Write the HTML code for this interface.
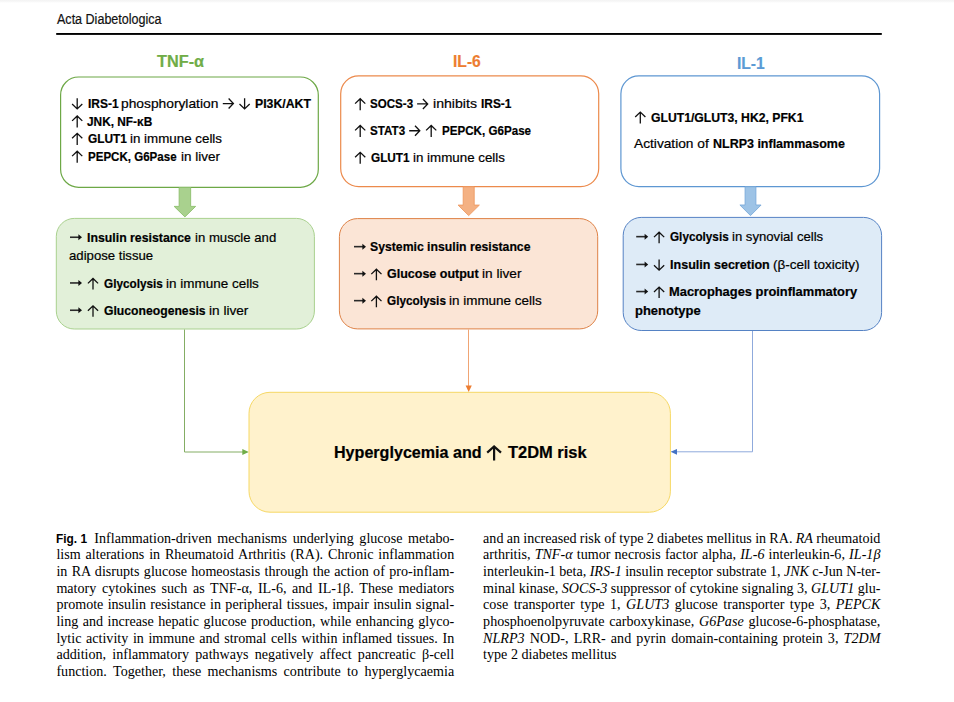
<!DOCTYPE html>
<html><head><meta charset="utf-8"><title>Fig. 1</title>
<style>
html,body{margin:0;padding:0;background:#fff;}
body{width:954px;height:702px;position:relative;overflow:hidden;font-family:"Liberation Sans",sans-serif;}
.topfade{position:absolute;left:0;top:0;width:954px;height:3px;background:linear-gradient(#f3f3f3,#f6f6f6 40%,#fff);}
.t{position:absolute;white-space:nowrap;transform-origin:0 0;line-height:1;-webkit-text-stroke:0.2px currentColor;}
.t b{font-weight:bold;}
.cap{position:absolute;white-space:nowrap;font-family:"Liberation Serif",serif;font-size:14.1px;line-height:16.66px;color:#000;transform-origin:0 0;}
.fig{font-family:"Liberation Sans",sans-serif;font-weight:bold;font-size:13.2px;}
</style></head><body>
<div class="topfade"></div>
<svg width="954" height="702" viewBox="0 0 954 702" style="position:absolute;left:0;top:0"><rect x="60.6" y="77.0" width="257.70" height="110.30" rx="18" ry="18" fill="#fff" stroke="#6DA846" stroke-width="1.2"/><rect x="340.7" y="75.8" width="258.00" height="110.80" rx="18" ry="18" fill="#fff" stroke="#EC8A4C" stroke-width="1.2"/><rect x="620.9" y="75.8" width="258.70" height="110.80" rx="18" ry="18" fill="#fff" stroke="#5E97D2" stroke-width="1.2"/><path d="M179.15,187.5 L190.65,187.5 L190.65,206.4 L195.65,206.4 L184.90,216.9 L174.15,206.4 L179.15,206.4 Z" fill="#A9D18E" stroke="#8CBF6C" stroke-width="0.9" stroke-linejoin="miter"/><path d="M463.20,186.8 L474.20,186.8 L474.20,205.1 L479.35,205.1 L468.70,215.6 L458.05,205.1 L463.20,205.1 Z" fill="#F4B183" stroke="#EE9A62" stroke-width="0.9" stroke-linejoin="miter"/><path d="M745.10,186.8 L755.90,186.8 L755.90,205.0 L761.10,205.0 L750.50,215.6 L739.90,205.0 L745.10,205.0 Z" fill="#9DC3E6" stroke="#7BAADA" stroke-width="0.9" stroke-linejoin="miter"/><rect x="56.3" y="218.4" width="258.10" height="110.60" rx="18" ry="18" fill="#E2F0D9" stroke="#A9D18E" stroke-width="1.0"/><rect x="339.4" y="218.6" width="258.30" height="110.30" rx="18" ry="18" fill="#FBE5D6" stroke="#DE8247" stroke-width="1.0"/><rect x="623.2" y="217.4" width="258.40" height="113.10" rx="18" ry="18" fill="#DEEBF7" stroke="#5582C4" stroke-width="1.0"/><path d="M184.5,329.5 L184.5,452.0 L243,452.0" fill="none" stroke="#84AD64" stroke-width="1"/><path d="M242.3,449.1 L248.8,452.0 L242.3,454.9 Z" fill="#70AD47"/><path d="M468.5,329.5 L468.5,386" fill="none" stroke="#EE9B64" stroke-width="0.9"/><path d="M465.6,385.6 L471.8,385.6 L468.7,392.0 Z" fill="#ED7D31"/><path d="M752.5,331 L752.5,451.8 L676,451.8" fill="none" stroke="#8FAADC" stroke-width="1"/><path d="M677.0,448.9 L670.6,451.8 L677.0,454.7 Z" fill="#4472C4"/><rect x="249.0" y="392.3" width="421.40" height="119.90" rx="21" ry="21" fill="#FFF2CC" stroke="#F6D865" stroke-width="1.0"/><path d="M77.2,98.2 L77.2,108.70 M72.10,104.00 L77.2,108.90 L82.30,104.00" fill="none" stroke="#111" stroke-width="1.3" stroke-linecap="butt" stroke-linejoin="miter"/><path d="M222.8,103.55 L233.20,103.55 M228.60,98.55 L233.40,103.55 L228.60,108.55" fill="none" stroke="#111" stroke-width="1.3" stroke-linecap="butt" stroke-linejoin="miter"/><path d="M244.6,98.2 L244.6,108.70 M239.50,104.00 L244.6,108.90 L249.70,104.00" fill="none" stroke="#111" stroke-width="1.3" stroke-linecap="butt" stroke-linejoin="miter"/><path d="M77.2,127.5 L77.2,116.2 M72.10,120.90 L77.2,116.00 L82.30,120.90" fill="none" stroke="#111" stroke-width="1.3" stroke-linecap="butt" stroke-linejoin="miter"/><path d="M77.2,144.9 L77.2,133.6 M72.10,138.30 L77.2,133.40 L82.30,138.30" fill="none" stroke="#111" stroke-width="1.3" stroke-linecap="butt" stroke-linejoin="miter"/><path d="M77.2,162.70000000000002 L77.2,151.4 M72.10,156.10 L77.2,151.20 L82.30,156.10" fill="none" stroke="#111" stroke-width="1.3" stroke-linecap="butt" stroke-linejoin="miter"/><path d="M360.2,110.2 L360.2,98.9 M355.10,103.60 L360.2,98.70 L365.30,103.60" fill="none" stroke="#111" stroke-width="1.3" stroke-linecap="butt" stroke-linejoin="miter"/><path d="M417.1,103.95 L427.50,103.95 M422.90,98.95 L427.70,103.95 L422.90,108.95" fill="none" stroke="#111" stroke-width="1.3" stroke-linecap="butt" stroke-linejoin="miter"/><path d="M360.2,137.0 L360.2,125.69999999999999 M355.10,130.40 L360.2,125.50 L365.30,130.40" fill="none" stroke="#111" stroke-width="1.3" stroke-linecap="butt" stroke-linejoin="miter"/><path d="M409.2,130.75 L419.60,130.75 M415.00,125.75 L419.80,130.75 L415.00,135.75" fill="none" stroke="#111" stroke-width="1.3" stroke-linecap="butt" stroke-linejoin="miter"/><path d="M431.2,137.0 L431.2,125.69999999999999 M426.10,130.40 L431.2,125.50 L436.30,130.40" fill="none" stroke="#111" stroke-width="1.3" stroke-linecap="butt" stroke-linejoin="miter"/><path d="M360.2,163.8 L360.2,152.5 M355.10,157.20 L360.2,152.30 L365.30,157.20" fill="none" stroke="#111" stroke-width="1.3" stroke-linecap="butt" stroke-linejoin="miter"/><path d="M640.3,123.6 L640.3,112.3 M635.20,117.00 L640.3,112.10 L645.40,117.00" fill="none" stroke="#111" stroke-width="1.3" stroke-linecap="butt" stroke-linejoin="miter"/><path d="M70.0,237.25 L79.20,237.25" stroke="#2a2a2a" stroke-width="1.6" fill="none"/><path d="M78.40,234.25 L82.00,237.25 L78.40,240.25 Z" fill="#111"/><path d="M70.0,282.95 L79.20,282.95" stroke="#2a2a2a" stroke-width="1.6" fill="none"/><path d="M78.40,279.95 L82.00,282.95 L78.40,285.95 Z" fill="#111"/><path d="M93.0,289.5 L93.0,278.7 M87.90,283.40 L93.0,278.50 L98.10,283.40" fill="none" stroke="#111" stroke-width="1.3" stroke-linecap="butt" stroke-linejoin="miter"/><path d="M70.0,310.25 L79.20,310.25" stroke="#2a2a2a" stroke-width="1.6" fill="none"/><path d="M78.40,307.25 L82.00,310.25 L78.40,313.25 Z" fill="#111"/><path d="M93.0,316.8 L93.0,306.0 M87.90,310.70 L93.0,305.80 L98.10,310.70" fill="none" stroke="#111" stroke-width="1.3" stroke-linecap="butt" stroke-linejoin="miter"/><path d="M354.0,246.65 L363.20,246.65" stroke="#2a2a2a" stroke-width="1.6" fill="none"/><path d="M362.40,243.65 L366.00,246.65 L362.40,249.65 Z" fill="#111"/><path d="M354.0,273.65 L363.20,273.65" stroke="#2a2a2a" stroke-width="1.6" fill="none"/><path d="M362.40,270.65 L366.00,273.65 L362.40,276.65 Z" fill="#111"/><path d="M376.4,280.2 L376.4,269.4 M371.30,274.10 L376.4,269.20 L381.50,274.10" fill="none" stroke="#111" stroke-width="1.3" stroke-linecap="butt" stroke-linejoin="miter"/><path d="M354.0,300.65 L363.20,300.65" stroke="#2a2a2a" stroke-width="1.6" fill="none"/><path d="M362.40,297.65 L366.00,300.65 L362.40,303.65 Z" fill="#111"/><path d="M376.4,307.2 L376.4,296.4 M371.30,301.10 L376.4,296.20 L381.50,301.10" fill="none" stroke="#111" stroke-width="1.3" stroke-linecap="butt" stroke-linejoin="miter"/><path d="M636.2,236.65 L645.40,236.65" stroke="#2a2a2a" stroke-width="1.6" fill="none"/><path d="M644.60,233.65 L648.20,236.65 L644.60,239.65 Z" fill="#111"/><path d="M659.1,243.20000000000002 L659.1,232.4 M654.00,237.10 L659.1,232.20 L664.20,237.10" fill="none" stroke="#111" stroke-width="1.3" stroke-linecap="butt" stroke-linejoin="miter"/><path d="M636.2,264.45 L645.40,264.45" stroke="#2a2a2a" stroke-width="1.6" fill="none"/><path d="M644.60,261.45 L648.20,264.45 L644.60,267.45 Z" fill="#111"/><path d="M659.1,259.4 L659.1,269.90 M654.00,265.20 L659.1,270.10 L664.20,265.20" fill="none" stroke="#111" stroke-width="1.3" stroke-linecap="butt" stroke-linejoin="miter"/><path d="M636.2,291.55 L645.40,291.55" stroke="#2a2a2a" stroke-width="1.6" fill="none"/><path d="M644.60,288.55 L648.20,291.55 L644.60,294.55 Z" fill="#111"/><path d="M659.1,298.1 L659.1,287.3 M654.00,292.00 L659.1,287.10 L664.20,292.00" fill="none" stroke="#111" stroke-width="1.3" stroke-linecap="butt" stroke-linejoin="miter"/><path d="M494.1,460.4 L494.1,446.5 M487.20000000000005,452.6 L494.1,446.4 L501.0,452.6" fill="none" stroke="#111" stroke-width="2.2" stroke-linecap="butt" stroke-linejoin="miter"/><rect x="56.2" y="33" width="825.6" height="1.9" fill="#000"/></svg><div class="t" id="t0" style="left:56.83px;top:11.91px;font-size:14.0px;font-family:'Liberation Sans', sans-serif;color:#111;transform:scaleX(0.8955)">Acta Diabetologica</div>
<div class="t" id="t1" style="left:156.75px;top:52.61px;font-size:17.2px;font-family:'Liberation Sans', sans-serif;color:#70AD47;transform:scaleX(0.9473)"><b>TNF-α</b></div>
<div class="t" id="t2" style="left:452.71px;top:52.71px;font-size:17.2px;font-family:'Liberation Sans', sans-serif;color:#ED7D31;transform:scaleX(0.9103)"><b>IL-6</b></div>
<div class="t" id="t3" style="left:736.62px;top:54.90px;font-size:17.2px;font-family:'Liberation Sans', sans-serif;color:#5B9BD5;transform:scaleX(0.9081)"><b>IL-1</b></div>
<div class="t" id="t4" style="left:87.98px;top:98.01px;font-size:12.8px;font-family:'Liberation Sans', sans-serif;color:#000;transform:scaleX(0.9355)"><b>IRS-1</b></div>
<div class="t" id="t5" style="left:121.41px;top:98.01px;font-size:12.8px;font-family:'Liberation Sans', sans-serif;color:#000;transform:scaleX(1.0770)">phosphorylation</div>
<div class="t" id="t6" style="left:255.09px;top:98.01px;font-size:12.8px;font-family:'Liberation Sans', sans-serif;color:#000;transform:scaleX(0.9589)"><b>PI3K/AKT</b></div>
<div class="t" id="t7" style="left:87.47px;top:115.71px;font-size:12.8px;font-family:'Liberation Sans', sans-serif;color:#000;transform:scaleX(0.9262)"><b>JNK, NF-κB</b></div>
<div class="t" id="t8" style="left:87.91px;top:133.11px;font-size:12.8px;font-family:'Liberation Sans', sans-serif;color:#000;transform:scaleX(0.9294)"><b>GLUT1</b></div>
<div class="t" id="t9" style="left:129.72px;top:133.11px;font-size:12.8px;font-family:'Liberation Sans', sans-serif;color:#000;transform:scaleX(1.0434)">in immune cells</div>
<div class="t" id="t10" style="left:88.48px;top:150.91px;font-size:12.8px;font-family:'Liberation Sans', sans-serif;color:#000;transform:scaleX(0.9021)"><b>PEPCK, G6Pase</b></div>
<div class="t" id="t11" style="left:180.60px;top:150.90px;font-size:12.8px;font-family:'Liberation Sans', sans-serif;color:#000;transform:scaleX(1.0511)">in liver</div>
<div class="t" id="t12" style="left:370.44px;top:98.41px;font-size:12.8px;font-family:'Liberation Sans', sans-serif;color:#000;transform:scaleX(0.9038)"><b>SOCS-3</b></div>
<div class="t" id="t13" style="left:433.11px;top:98.40px;font-size:12.8px;font-family:'Liberation Sans', sans-serif;color:#000;transform:scaleX(1.1037)">inhibits</div>
<div class="t" id="t14" style="left:480.77px;top:98.41px;font-size:12.8px;font-family:'Liberation Sans', sans-serif;color:#000;transform:scaleX(0.9284)"><b>IRS-1</b></div>
<div class="t" id="t15" style="left:370.03px;top:125.21px;font-size:12.8px;font-family:'Liberation Sans', sans-serif;color:#000;transform:scaleX(0.9086)"><b>STAT3</b></div>
<div class="t" id="t16" style="left:442.07px;top:125.21px;font-size:12.8px;font-family:'Liberation Sans', sans-serif;color:#000;transform:scaleX(0.9075)"><b>PEPCK, G6Pase</b></div>
<div class="t" id="t17" style="left:370.95px;top:152.01px;font-size:12.8px;font-family:'Liberation Sans', sans-serif;color:#000;transform:scaleX(0.9207)"><b>GLUT1</b></div>
<div class="t" id="t18" style="left:412.82px;top:152.01px;font-size:12.8px;font-family:'Liberation Sans', sans-serif;color:#000;transform:scaleX(1.0427)">in immune cells</div>
<div class="t" id="t19" style="left:651.15px;top:111.81px;font-size:12.8px;font-family:'Liberation Sans', sans-serif;color:#000;transform:scaleX(0.9527)"><b>GLUT1/GLUT3, HK2, PFK1</b></div>
<div class="t" id="t20" style="left:634.46px;top:138.41px;font-size:12.8px;font-family:'Liberation Sans', sans-serif;color:#000;transform:scaleX(1.0724)">Activation of</div>
<div class="t" id="t21" style="left:713.24px;top:138.41px;font-size:12.8px;font-family:'Liberation Sans', sans-serif;color:#000;transform:scaleX(0.9756)"><b>NLRP3 inflammasome</b></div>
<div class="t" id="t22" style="left:86.74px;top:232.01px;font-size:12.8px;font-family:'Liberation Sans', sans-serif;color:#000;transform:scaleX(0.9615)"><b>Insulin resistance</b></div>
<div class="t" id="t23" style="left:194.70px;top:232.01px;font-size:12.8px;font-family:'Liberation Sans', sans-serif;color:#000;transform:scaleX(1.0288)">in muscle and</div>
<div class="t" id="t24" style="left:68.92px;top:250.31px;font-size:12.8px;font-family:'Liberation Sans', sans-serif;color:#000;transform:scaleX(1.0287)">adipose tissue</div>
<div class="t" id="t25" style="left:103.64px;top:277.71px;font-size:12.8px;font-family:'Liberation Sans', sans-serif;color:#000;transform:scaleX(0.9191)"><b>Glycolysis</b></div>
<div class="t" id="t26" style="left:165.82px;top:277.71px;font-size:12.8px;font-family:'Liberation Sans', sans-serif;color:#000;transform:scaleX(1.0530)">in immune cells</div>
<div class="t" id="t27" style="left:103.78px;top:305.01px;font-size:12.8px;font-family:'Liberation Sans', sans-serif;color:#000;transform:scaleX(0.9523)"><b>Gluconeogenesis</b></div>
<div class="t" id="t28" style="left:208.60px;top:305.01px;font-size:12.8px;font-family:'Liberation Sans', sans-serif;color:#000;transform:scaleX(1.0643)">in liver</div>
<div class="t" id="t29" style="left:370.30px;top:241.40px;font-size:12.8px;font-family:'Liberation Sans', sans-serif;color:#000;transform:scaleX(0.9559)"><b>Systemic insulin resistance</b></div>
<div class="t" id="t30" style="left:387.23px;top:268.41px;font-size:12.8px;font-family:'Liberation Sans', sans-serif;color:#000;transform:scaleX(0.9766)"><b>Glucose output</b></div>
<div class="t" id="t31" style="left:482.27px;top:268.40px;font-size:12.8px;font-family:'Liberation Sans', sans-serif;color:#000;transform:scaleX(1.0661)">in liver</div>
<div class="t" id="t32" style="left:387.36px;top:295.41px;font-size:12.8px;font-family:'Liberation Sans', sans-serif;color:#000;transform:scaleX(0.9206)"><b>Glycolysis</b></div>
<div class="t" id="t33" style="left:449.43px;top:295.40px;font-size:12.8px;font-family:'Liberation Sans', sans-serif;color:#000;transform:scaleX(1.0503)">in immune cells</div>
<div class="t" id="t34" style="left:669.80px;top:231.41px;font-size:12.8px;font-family:'Liberation Sans', sans-serif;color:#000;transform:scaleX(0.9165)"><b>Glycolysis</b></div>
<div class="t" id="t35" style="left:731.65px;top:231.41px;font-size:12.8px;font-family:'Liberation Sans', sans-serif;color:#000;transform:scaleX(1.0252)">in synovial cells</div>
<div class="t" id="t36" style="left:669.71px;top:259.21px;font-size:12.8px;font-family:'Liberation Sans', sans-serif;color:#000;transform:scaleX(0.9808)"><b>Insulin secretion</b></div>
<div class="t" id="t37" style="left:772.71px;top:259.21px;font-size:12.8px;font-family:'Liberation Sans', sans-serif;color:#000;transform:scaleX(1.0560)">(β-cell toxicity)</div>
<div class="t" id="t38" style="left:669.39px;top:286.31px;font-size:12.8px;font-family:'Liberation Sans', sans-serif;color:#000;transform:scaleX(1.0056)"><b>Macrophages proinflammatory</b></div>
<div class="t" id="t39" style="left:635.44px;top:305.01px;font-size:12.8px;font-family:'Liberation Sans', sans-serif;color:#000;transform:scaleX(1.0142)"><b>phenotype</b></div>
<div class="t" id="t40" style="left:333.64px;top:445.01px;font-size:15.6px;font-family:'Liberation Sans', sans-serif;color:#000;transform:scaleX(1.0322)"><b>Hyperglycemia and</b></div>
<div class="t" id="t41" style="left:507.92px;top:445.01px;font-size:15.6px;font-family:'Liberation Sans', sans-serif;color:#000;transform:scaleX(1.0554)"><b>T2DM risk</b></div><div class="cap fig" style="left:56.0px;top:530.71px;transform:scaleX(0.9010)" id="fig">Fig. 1</div>
<div class="cap" id="c0_0" style="left:94.30px;top:529.61px;word-spacing:2.109px">Inflammation-driven mechanisms underlying glucose metabo-</div>
<div class="cap" id="c0_1" style="left:56.40px;top:546.27px;word-spacing:1.357px">lism alterations in Rheumatoid Arthritis (RA). Chronic inflammation</div>
<div class="cap" id="c0_2" style="left:56.40px;top:562.93px;word-spacing:0.837px">in RA disrupts glucose homeostasis through the action of pro-inflam-</div>
<div class="cap" id="c0_3" style="left:56.40px;top:579.59px;word-spacing:2.082px">matory cytokines such as TNF-α, IL-6, and IL-1β. These mediators</div>
<div class="cap" id="c0_4" style="left:56.40px;top:596.25px;word-spacing:0.750px">promote insulin resistance in peripheral tissues, impair insulin signal-</div>
<div class="cap" id="c0_5" style="left:56.40px;top:612.91px;word-spacing:0.951px">ling and increase hepatic glucose production, while enhancing glyco-</div>
<div class="cap" id="c0_6" style="left:56.40px;top:629.57px;word-spacing:1.069px">lytic activity in immune and stromal cells within inflamed tissues. In</div>
<div class="cap" id="c0_7" style="left:56.40px;top:646.23px;word-spacing:2.732px">addition, inflammatory pathways negatively affect pancreatic β-cell</div>
<div class="cap" id="c0_8" style="left:56.40px;top:662.89px;word-spacing:2.852px">function. Together, these mechanisms contribute to hyperglycaemia</div>
<div class="cap" id="c1_0" style="left:483.10px;top:529.61px;word-spacing:-0.258px">and an increased risk of type 2 diabetes mellitus in RA. <i>RA</i> rheumatoid</div>
<div class="cap" id="c1_1" style="left:483.10px;top:546.27px;word-spacing:0.643px">arthritis, <i>TNF-α</i> tumor necrosis factor alpha, <i>IL-6</i> interleukin-6, <i>IL-1β</i></div>
<div class="cap" id="c1_2" style="left:483.10px;top:562.93px;word-spacing:-0.139px">interleukin-1 beta, <i>IRS-1</i> insulin receptor substrate 1, <i>JNK</i> c-Jun N-ter-</div>
<div class="cap" id="c1_3" style="left:483.10px;top:579.59px;word-spacing:-0.007px">minal kinase, <i>SOCS-3</i> suppressor of cytokine signaling 3, <i>GLUT1</i> glu-</div>
<div class="cap" id="c1_4" style="left:483.10px;top:596.25px;word-spacing:1.998px">cose transporter type 1, <i>GLUT3</i> glucose transporter type 3, <i>PEPCK</i></div>
<div class="cap" id="c1_5" style="left:483.10px;top:612.91px;word-spacing:1.312px">phosphoenolpyruvate carboxykinase, <i>G6Pase</i> glucose-6-phosphatase,</div>
<div class="cap" id="c1_6" style="left:483.10px;top:629.57px;word-spacing:1.609px"><i>NLRP3</i> NOD-, LRR- and pyrin domain-containing protein 3, <i>T2DM</i></div>
<div class="cap" id="c1_7" style="left:483.10px;top:646.23px;word-spacing:0.000px">type 2 diabetes mellitus</div></body></html>
